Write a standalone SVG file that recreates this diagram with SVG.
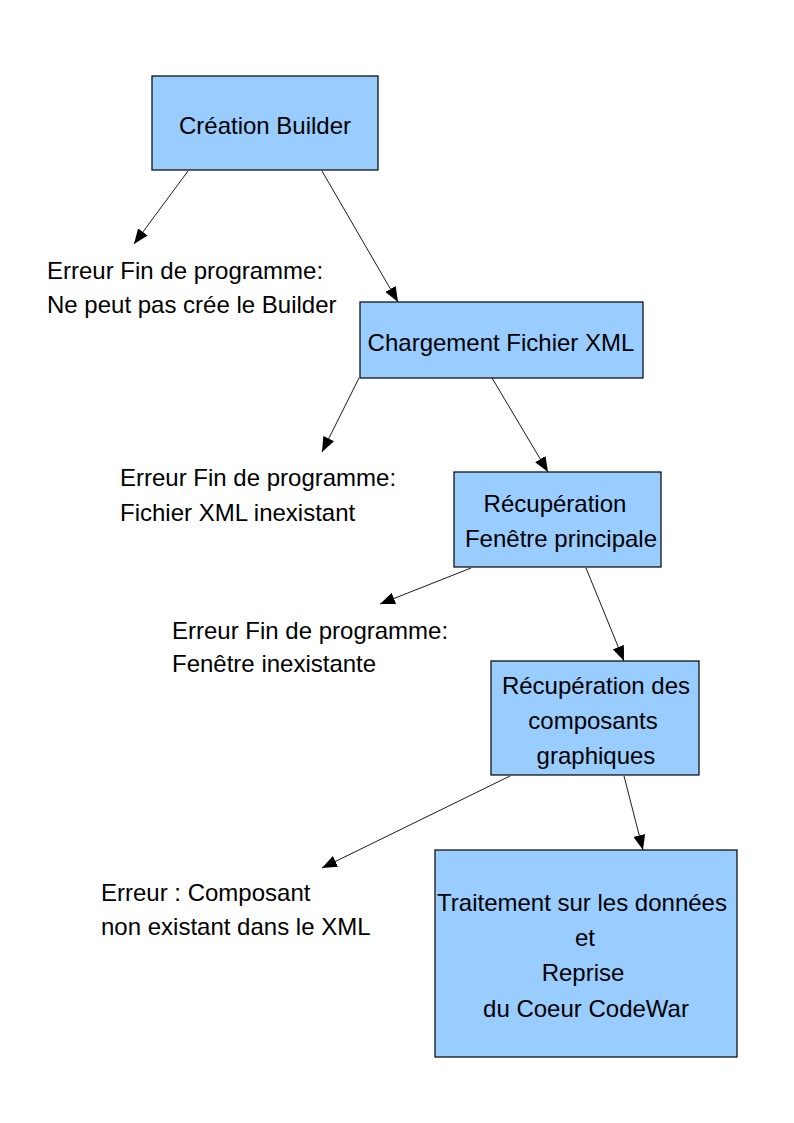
<svg xmlns="http://www.w3.org/2000/svg" width="794" height="1123" viewBox="0 0 794 1123">
<style>
.box{fill:#99ccff;stroke:#000;stroke-width:1.2}
.t{font-family:"Liberation Sans",Arial,sans-serif;font-size:24px;fill:#000}
.c{stroke:#000;stroke-width:0.9;fill:none;marker-end:url(#ah)}
</style>
<defs>
<marker id="ah" markerUnits="userSpaceOnUse" markerWidth="16" markerHeight="12" refX="15" refY="6" orient="auto">
<path d="M0,0 L15,6 L0,12 Z" fill="#000"/>
</marker>
</defs>
<rect width="794" height="1123" fill="#fff"/>
<g id="connectors">
<line class="c" x1="188" y1="171" x2="134" y2="244"/>
<line class="c" x1="322" y1="171" x2="398" y2="302"/>
<line class="c" x1="359" y1="378" x2="322" y2="452"/>
<line class="c" x1="492" y1="378" x2="548" y2="472"/>
<line class="c" x1="471" y1="568" x2="380" y2="604"/>
<line class="c" x1="586" y1="568" x2="624" y2="661"/>
<line class="c" x1="510" y1="776" x2="322" y2="868"/>
<line class="c" x1="624" y1="776" x2="643" y2="850"/>
</g>
<g id="n1"><rect class="box" x="152" y="76" width="226" height="94"/><text class="t" x="265" y="134" text-anchor="middle">Création Builder</text></g>
<g id="n2"><rect class="box" x="360" y="302" width="283" height="76"/><text class="t" x="501" y="351" text-anchor="middle">Chargement Fichier XML</text></g>
<g id="n3"><rect class="box" x="454" y="472" width="207" height="95"/><text class="t" x="555" y="512" text-anchor="middle">Récupération</text><text class="t" x="561" y="547" text-anchor="middle">Fenêtre principale</text></g>
<g id="n4"><rect class="box" x="491" y="661" width="208" height="114"/><text class="t" x="596" y="694" text-anchor="middle">Récupération des</text><text class="t" x="593" y="729" text-anchor="middle">composants</text><text class="t" x="596" y="764" text-anchor="middle">graphiques</text></g>
<g id="n5"><rect class="box" x="435" y="850" width="302" height="207"/><text class="t" x="582" y="911" text-anchor="middle">Traitement sur les données</text><text class="t" x="585" y="946" text-anchor="middle">et</text><text class="t" x="583" y="981" text-anchor="middle">Reprise</text><text class="t" x="586" y="1017" text-anchor="middle">du Coeur CodeWar</text></g>
<g id="e1"><text class="t" x="47" y="279">Erreur Fin de programme:</text><text class="t" x="47" y="313">Ne peut pas crée le Builder</text></g>
<g id="e2"><text class="t" x="120" y="486">Erreur Fin de programme:</text><text class="t" x="120" y="521">Fichier XML inexistant</text></g>
<g id="e3"><text class="t" x="172" y="639">Erreur Fin de programme:</text><text class="t" x="172" y="672">Fenêtre inexistante</text></g>
<g id="e4"><text class="t" x="101" y="901">Erreur : Composant</text><text class="t" x="101" y="935">non existant dans le XML</text></g>
</svg>
